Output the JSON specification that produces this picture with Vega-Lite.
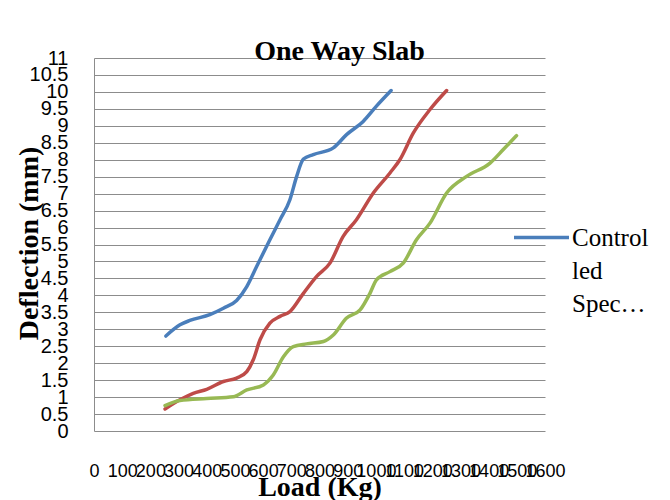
{
  "$schema": "https://vega.github.io/schema/vega-lite/v6.json",
  "width": 451,
  "height": 373,
  "autosize": {"type": "none"},
  "padding": {"left": 94, "top": 58, "right": 125, "bottom": 69},
  "background": "white",
  "title": {
    "text": "One Way Slab",
    "font": "Liberation Serif",
    "fontSize": 28,
    "fontWeight": "bold",
    "color": "black",
    "anchor": "middle",
    "frame": "group",
    "dx": 20,
    "baseline": "alphabetic",
    "offset": -40
  },
  "data": {
    "values": [
      {"specimen": "Controlled Specimen", "load": 255, "deflection": 2.80},
      {"specimen": "Controlled Specimen", "load": 305, "deflection": 3.13},
      {"specimen": "Controlled Specimen", "load": 340, "deflection": 3.26},
      {"specimen": "Controlled Specimen", "load": 411, "deflection": 3.43},
      {"specimen": "Controlled Specimen", "load": 459, "deflection": 3.62},
      {"specimen": "Controlled Specimen", "load": 506, "deflection": 3.85},
      {"specimen": "Controlled Specimen", "load": 542, "deflection": 4.26},
      {"specimen": "Controlled Specimen", "load": 577, "deflection": 4.85},
      {"specimen": "Controlled Specimen", "load": 624, "deflection": 5.64},
      {"specimen": "Controlled Specimen", "load": 660, "deflection": 6.23},
      {"specimen": "Controlled Specimen", "load": 695, "deflection": 6.82},
      {"specimen": "Controlled Specimen", "load": 719, "deflection": 7.51},
      {"specimen": "Controlled Specimen", "load": 743, "deflection": 8.02},
      {"specimen": "Controlled Specimen", "load": 778, "deflection": 8.15},
      {"specimen": "Controlled Specimen", "load": 849, "deflection": 8.35},
      {"specimen": "Controlled Specimen", "load": 896, "deflection": 8.74},
      {"specimen": "Controlled Specimen", "load": 955, "deflection": 9.13},
      {"specimen": "Controlled Specimen", "load": 1002, "deflection": 9.58},
      {"specimen": "Controlled Specimen", "load": 1054, "deflection": 10.04},

      {"specimen": "Specimen 2", "load": 252, "deflection": 0.65},
      {"specimen": "Specimen 2", "load": 305, "deflection": 0.92},
      {"specimen": "Specimen 2", "load": 352, "deflection": 1.11},
      {"specimen": "Specimen 2", "load": 400, "deflection": 1.23},
      {"specimen": "Specimen 2", "load": 459, "deflection": 1.46},
      {"specimen": "Specimen 2", "load": 506, "deflection": 1.56},
      {"specimen": "Specimen 2", "load": 542, "deflection": 1.75},
      {"specimen": "Specimen 2", "load": 565, "deflection": 2.10},
      {"specimen": "Specimen 2", "load": 589, "deflection": 2.69},
      {"specimen": "Specimen 2", "load": 624, "deflection": 3.18},
      {"specimen": "Specimen 2", "load": 660, "deflection": 3.38},
      {"specimen": "Specimen 2", "load": 695, "deflection": 3.52},
      {"specimen": "Specimen 2", "load": 743, "deflection": 4.06},
      {"specimen": "Specimen 2", "load": 790, "deflection": 4.56},
      {"specimen": "Specimen 2", "load": 837, "deflection": 4.95},
      {"specimen": "Specimen 2", "load": 884, "deflection": 5.74},
      {"specimen": "Specimen 2", "load": 931, "deflection": 6.23},
      {"specimen": "Specimen 2", "load": 991, "deflection": 7.02},
      {"specimen": "Specimen 2", "load": 1050, "deflection": 7.61},
      {"specimen": "Specimen 2", "load": 1085, "deflection": 8.00},
      {"specimen": "Specimen 2", "load": 1133, "deflection": 8.79},
      {"specimen": "Specimen 2", "load": 1192, "deflection": 9.48},
      {"specimen": "Specimen 2", "load": 1251, "deflection": 10.04},

      {"specimen": "Specimen 3", "load": 252, "deflection": 0.75},
      {"specimen": "Specimen 3", "load": 305, "deflection": 0.90},
      {"specimen": "Specimen 3", "load": 400, "deflection": 0.96},
      {"specimen": "Specimen 3", "load": 494, "deflection": 1.01},
      {"specimen": "Specimen 3", "load": 542, "deflection": 1.21},
      {"specimen": "Specimen 3", "load": 601, "deflection": 1.36},
      {"specimen": "Specimen 3", "load": 636, "deflection": 1.65},
      {"specimen": "Specimen 3", "load": 672, "deflection": 2.19},
      {"specimen": "Specimen 3", "load": 707, "deflection": 2.49},
      {"specimen": "Specimen 3", "load": 754, "deflection": 2.57},
      {"specimen": "Specimen 3", "load": 814, "deflection": 2.64},
      {"specimen": "Specimen 3", "load": 849, "deflection": 2.83},
      {"specimen": "Specimen 3", "load": 896, "deflection": 3.33},
      {"specimen": "Specimen 3", "load": 944, "deflection": 3.57},
      {"specimen": "Specimen 3", "load": 979, "deflection": 4.06},
      {"specimen": "Specimen 3", "load": 1002, "deflection": 4.46},
      {"specimen": "Specimen 3", "load": 1050, "deflection": 4.70},
      {"specimen": "Specimen 3", "load": 1097, "deflection": 4.95},
      {"specimen": "Specimen 3", "load": 1144, "deflection": 5.64},
      {"specimen": "Specimen 3", "load": 1192, "deflection": 6.13},
      {"specimen": "Specimen 3", "load": 1251, "deflection": 7.02},
      {"specimen": "Specimen 3", "load": 1322, "deflection": 7.51},
      {"specimen": "Specimen 3", "load": 1405, "deflection": 7.90},
      {"specimen": "Specimen 3", "load": 1452, "deflection": 8.30},
      {"specimen": "Specimen 3", "load": 1499, "deflection": 8.71}
    ]
  },
  "mark": {"type": "line", "interpolate": "monotone", "strokeWidth": 3.5, "strokeCap": "round"},
  "encoding": {
    "x": {
      "field": "load",
      "type": "quantitative",
      "scale": {"domain": [0, 1600], "nice": false, "zero": false},
      "axis": {
        "title": "Load (Kg)",
        "values": [0,100,200,300,400,500,600,700,800,900,1000,1100,1200,1300,1400,1500,1600],
        "format": "d",
        "labelOverlap": false,
        "labelFlush": false,
        "grid": false,
        "domain": false,
        "ticks": false,
        "tickSize": 0,
        "labelPadding": 31,
        "labelFont": "Liberation Sans",
        "labelFontSize": 18,
        "labelColor": "black",
        "titleFont": "Liberation Serif",
        "titleFontSize": 28,
        "titleFontWeight": "bold",
        "titleColor": "black",
        "titleBaseline": "alphabetic",
        "titleY": 64
      }
    },
    "y": {
      "field": "deflection",
      "type": "quantitative",
      "scale": {"domain": [0, 11], "nice": false},
      "axis": {
        "title": "Deflection (mm)",
        "values": [0,0.5,1,1.5,2,2.5,3,3.5,4,4.5,5,5.5,6,6.5,7,7.5,8,8.5,9,9.5,10,10.5,11],
        "format": "~g",
        "labelOverlap": false,
        "labelFlush": false,
        "grid": true,
        "gridColor": "#8c8c8c",
        "gridWidth": 1,
        "domain": true,
        "domainColor": "#8c8c8c",
        "domainWidth": 1,
        "ticks": false,
        "tickSize": 0,
        "labelPadding": 26,
        "labelFont": "Liberation Sans",
        "labelFontSize": 20,
        "labelColor": "black",
        "titleFont": "Liberation Serif",
        "titleFontSize": 28,
        "titleFontWeight": "bold",
        "titleColor": "black",
        "titleBaseline": "middle",
        "titleX": -65,
        "titleY": 185
      }
    },
    "color": {
      "field": "specimen",
      "type": "nominal",
      "scale": {
        "domain": ["Controlled Specimen", "Specimen 2", "Specimen 3"],
        "range": ["#4A7EBB", "#BE4B48", "#98B954"]
      },
      "legend": {
        "title": null,
        "values": ["Controlled Specimen"],
        "orient": "none",
        "legendX": 418,
        "legendY": 150,
        "padding": 0,
        "symbolType": "stroke",
        "symbolSize": 3025,
        "symbolStrokeWidth": 3.5,
        "labelFont": "Liberation Serif",
        "labelFontSize": 25,
        "labelColor": "black",
        "labelLimit": 300,
        "labelOffset": 1,
        "labelExpr": "['Control', 'led', 'Spec…']"
      }
    }
  },
  "config": {
    "view": {"stroke": null},
    "style": {"guide-label": {"lineHeight": 33}}
  }
}
